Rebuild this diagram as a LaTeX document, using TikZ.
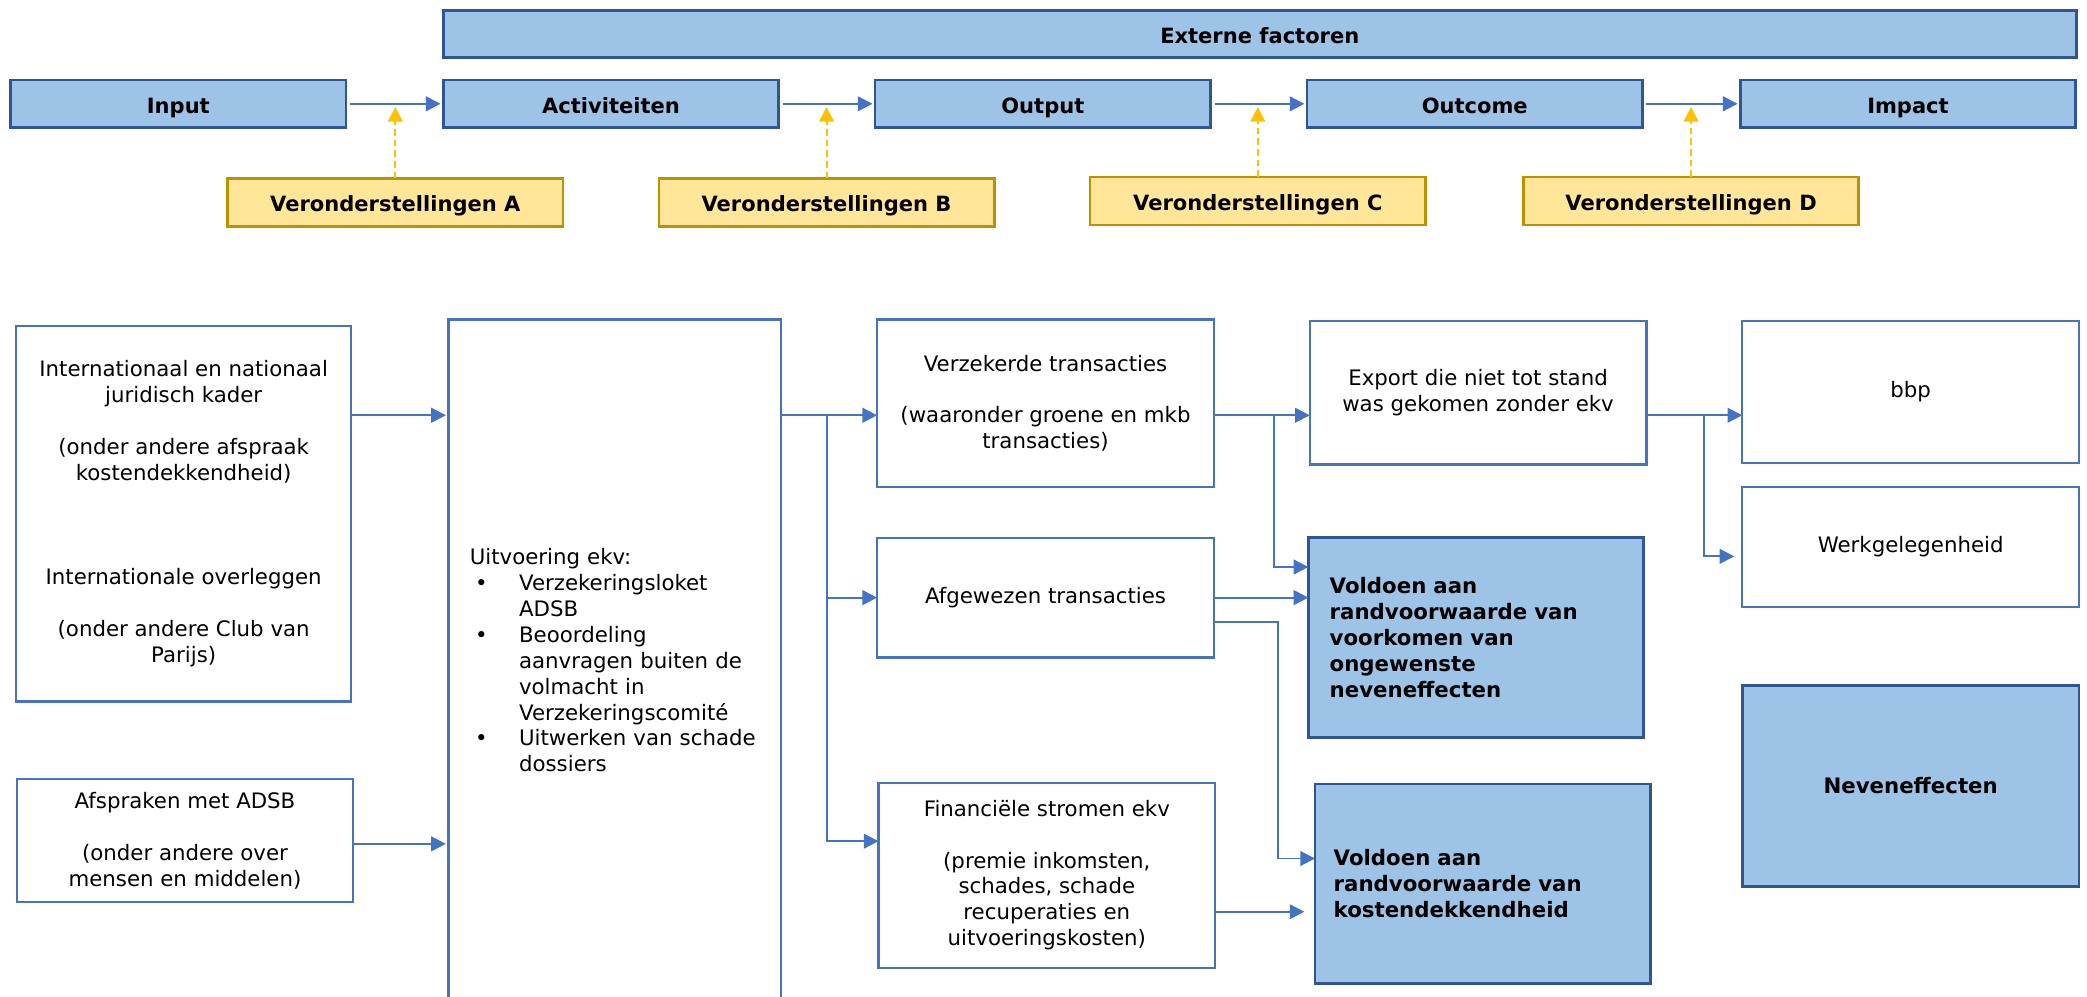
\documentclass[tikz,border=0pt]{standalone}
\usepackage{fontspec}
\setmainfont{DejaVu Sans}
\usetikzlibrary{arrows.meta,calc}
\definecolor{lightblue}{HTML}{9DC3E6}
\definecolor{darkblue}{HTML}{2F5597}
\definecolor{boxblue}{HTML}{4472C4}
\definecolor{arrowblue}{HTML}{4472C4}
\definecolor{lightyellow}{HTML}{FFE699}
\definecolor{gold}{HTML}{BF9000}
\definecolor{dashyellow}{HTML}{FFC000}
\tikzset{
 base/.style={rectangle, inner sep=0pt, outer sep=0pt, align=center, font=\fontsize{8}{9.75}\selectfont},
 wbox/.style={base, draw=boxblue, line width=0.8pt, fill=white},
 bbox/.style={base, draw=darkblue, line width=1pt, fill=lightblue, font=\fontsize{8}{9.75}\selectfont\bfseries},
 tbox/.style={bbox, minimum width=126pt, minimum height=18pt, text height=7pt, text depth=0pt, font=\fontsize{7.9}{9.5}\selectfont\bfseries},
 ybox/.style={tbox, draw=gold, fill=lightyellow},
 arr/.style={draw=arrowblue, line width=0.75pt, -{Triangle[length=5.5pt,width=5.5pt]}},
 toparr/.style={arr, line width=0.85pt, shorten <=1.5pt, shorten >=1pt},
 dasharr/.style={draw=dashyellow, line width=0.75pt, dash pattern=on 2.5pt off 1.5pt, -{Triangle[length=5.5pt,width=5.5pt]}, shorten >=1.2pt}
}
\begin{document}
\begin{tikzpicture}[x=0.5pt,y=-0.5pt]
\useasboundingbox (0,0) rectangle (1568,749);
% top row
\node[tbox, minimum width=613.5pt, minimum height=17.5pt] (EF) at (946.5,25.5) {Externe factoren};
\node[tbox] (In) at (134,78) {Input};
\node[tbox] (Act) at (459,78) {Activiteiten};
\node[tbox] (Out) at (783.5,78) {Output};
\node[tbox] (Oc) at (1108,78) {Outcome};
\node[tbox] (Imp) at (1433.5,78) {Impact};
\node[ybox] (VA) at (297,152) {Veronderstellingen A};
\node[ybox] (VB) at (621,152) {Veronderstellingen B};
\node[ybox] (VC) at (945,151) {Veronderstellingen C};
\node[ybox] (VD) at (1270.5,151) {Veronderstellingen D};
\draw[toparr] (In.east) -- (Act.west);
\draw[toparr] (Act.east) -- (Out.west);
\draw[toparr] (Out.east) -- (Oc.west);
\draw[toparr] (Oc.east) -- (Imp.west);
\draw[dasharr] (VA.north) -- (VA.north |- In.east);
\draw[dasharr] (VB.north) -- (VB.north |- Act.east);
\draw[dasharr] (VC.north) -- (VC.north |- Out.east);
\draw[dasharr] (VD.north) -- (VD.north |- Oc.east);
% bottom section
\node[wbox, minimum width=126pt, minimum height=141pt] (B1) at (138,386)
 {Internationaal en nationaal\\ juridisch kader\\[9.75pt] (onder andere afspraak\\ kostendekkendheid)\\[29.25pt] Internationale overleggen\\[9.75pt] (onder andere Club van\\ Parijs)};
\node[wbox, minimum width=126pt, minimum height=46.5pt] (B2) at (139,631.5)
 {Afspraken met ADSB\\[9.75pt] (onder andere over\\ mensen en middelen)};
\node[wbox, minimum width=125pt, minimum height=256pt, text width=109pt, inner xsep=8pt, align=left] (Uitv) at (462,496)
 {Uitvoering ekv:\\
 \hspace*{2pt}\makebox[16.5pt][l]{•}Verzekeringsloket\\
 \hspace*{18.5pt}ADSB\\
 \hspace*{2pt}\makebox[16.5pt][l]{•}Beoordeling\\
 \hspace*{18.5pt}aanvragen buiten de\\
 \hspace*{18.5pt}volmacht in\\
 \hspace*{18.5pt}Verzekeringscomité\\
 \hspace*{2pt}\makebox[16.5pt][l]{•}Uitwerken van schade\\
 \hspace*{18.5pt}dossiers};
\node[wbox, minimum width=126.5pt, minimum height=63pt] (VT) at (785.5,303)
 {Verzekerde transacties\\[9.75pt] (waaronder groene en mkb\\ transacties)};
\node[wbox, minimum width=126.5pt, minimum height=45pt] (AT) at (785.5,449) {Afgewezen transacties};
\node[wbox, minimum width=126.5pt, minimum height=69.5pt] (FS) at (786.5,657.5)
 {Financiële stromen ekv\\[9.75pt] (premie inkomsten,\\ schades, schade\\ recuperaties en\\ uitvoeringskosten)};
\node[wbox, minimum width=126.5pt, minimum height=54pt] (EX) at (1110.5,295)
 {Export die niet tot stand\\ was gekomen zonder ekv};
\node[bbox, minimum width=126pt, minimum height=75pt, text width=110pt, inner xsep=8pt, align=left] (V1) at (1109,479)
 {Voldoen aan\\ randvoorwaarde van\\ voorkomen van\\ ongewenste\\ neveneffecten};
\node[bbox, minimum width=126pt, minimum height=75pt, text width=112pt, inner xsep=7pt, align=left] (V2) at (1114,664)
 {Voldoen aan\\ randvoorwaarde van\\ kostendekkendheid};
\node[wbox, minimum width=126.5pt, minimum height=53.5pt] (BBP) at (1435.5,294.5) {bbp};
\node[wbox, minimum width=126.5pt, minimum height=45pt] (WG) at (1435.5,411) {Werkgelegenheid};
\node[bbox, minimum width=126.5pt, minimum height=75.5pt] (NE) at (1435.5,590.5) {Neveneffecten};
% connectors
\coordinate (r) at (0,312);
\coordinate (j1) at (621,312);
\coordinate (j2) at (957,312);
\coordinate (j3) at (1280,312);
\draw[arr, shorten >=1pt] (B1.east |- r) -- (Uitv.west |- r);
\draw[arr, shorten >=1pt] ([yshift=-1.25pt]B2.east) -- ([yshift=-1.25pt]B2.east -| Uitv.west);
\draw[arr] (Uitv.east |- r) -- (VT.west |- r);
\draw[arr] (j1) |- (AT.west);
\draw[arr] (j1) |- ([yshift=12.75pt]FS.west);
\draw[arr] (VT.east |- r) -- (EX.west |- r);
\draw[arr] (j2) |- ([yshift=26.5pt]V1.west);
\draw[arr] (AT.east) -- (AT.east -| V1.west);
\draw[arr] ([yshift=-9pt]AT.east) -- ++(48,0) |- ([yshift=9.5pt]V2.west);
\draw[arr, shorten >=4pt] ([yshift=-13.75pt]FS.east) -- ([yshift=-13.75pt]FS.east -| V2.west);
\draw[arr] (EX.east |- r) -- (BBP.west |- r);
\draw[arr, shorten >=3pt] (j3) |- ([yshift=-3.5pt]WG.west);
\end{tikzpicture}
\end{document}
